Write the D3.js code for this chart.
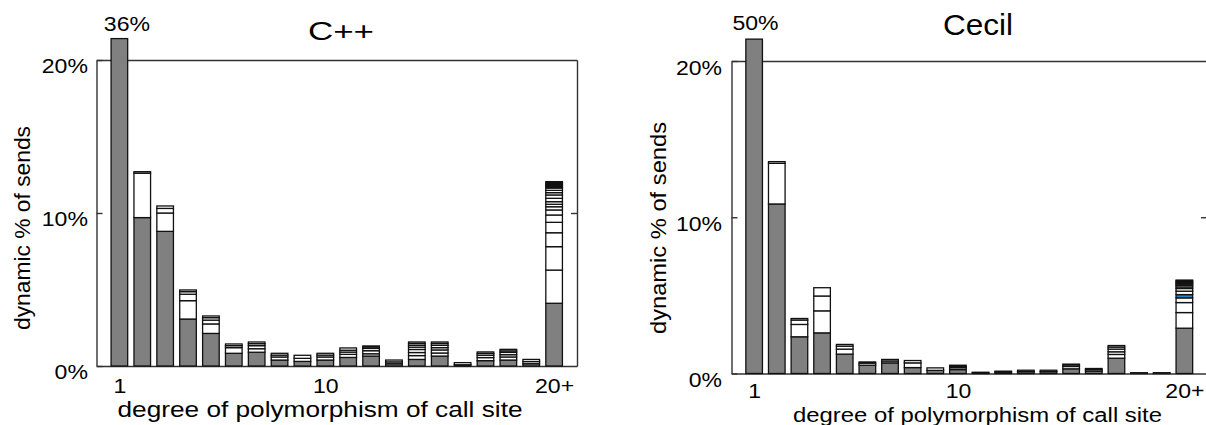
<!DOCTYPE html>
<html>
<head>
	<script src="https://cdn.jsdelivr.net/npm/d3@7"></script>
	<style>
		html, body {
			padding: 0;
			margin: 0;
			background: #fff;
		}
		text {
			font-family: "Liberation Sans", Arial, sans-serif;
			fill: #000;
		}
	</style>
</head>
<body>
	<script>
		var width = 1206, height = 425;

		// degree of polymorphism of call site, 1 .. 20+
		var degrees = d3.range(1, 21);
		var xTickValues = [1, 10, 20];
		var xTickLabels = ["1", "10", "20+"];
		var yTickValues = [0, 10, 20];

		// C++ : grey part of each bar, then the stacked pieces above it (% of sends)
		var cppGrey = [36, 9.7, 8.8, 3.07, 2.13, 0.83, 0.9, 0.39, 0.3, 0.39,
			0.56, 0.65, 0.15, 0.43, 0.65, 0.08, 0.35, 0.39, 0.15, 4.1];
		var cppPieces = [
			[],
			[2.9, 0.1],
			[1.2, 0.3, 0.16],
			[1.2, 0.42, 0.17, 0.11],
			[0.62, 0.25, 0.16, 0.11],
			[0.37, 0.13, 0.11],
			[0.23, 0.2, 0.13, 0.11],
			[0.2, 0.12, 0.12],
			[0.2, 0.2],
			[0.2, 0.12, 0.12],
			[0.2, 0.15, 0.12, 0.15],
			[0.15, 0.2, 0.15, 0.1, 0.06],
			[0.12, 0.12],
			[0.25, 0.2, 0.2, 0.15, 0.12, 0.12, 0.1],
			[0.2, 0.2, 0.15, 0.15, 0.12, 0.1],
			[0.14],
			[0.2, 0.15, 0.12, 0.1],
			[0.2, 0.15, 0.15, 0.1, 0.1],
			[0.14, 0.14],
			[2.17, 1.53, 0.91, 0.68, 0.48, 0.33, 0.21, 0.16, 0.17, 0.22, 0.22,
				0.15, 0.15, 0.15, 0.07, 0.07, 0.07, 0.07, 0.07, 0.07]
		];

		// Cecil
		var cecilGrey = [50, 10.85, 2.35, 2.6, 1.24, 0.53, 0.68, 0.38, 0.2, 0.25,
			0.04, 0.08, 0.12, 0.12, 0.3, 0.15, 0.98, 0.02, 0.02, 2.9];
		var cecilPieces = [
			[],
			[2.6, 0.11],
			[0.79, 0.28, 0.1],
			[1.41, 0.95, 0.53],
			[0.32, 0.19, 0.11],
			[0.13, 0.08],
			[0.12, 0.1],
			[0.3, 0.15],
			[0.16],
			[0.12, 0.08, 0.08],
			[0.04],
			[0.07],
			[0.09],
			[0.09],
			[0.15, 0.1, 0.05],
			[0.1, 0.07],
			[0.24, 0.17, 0.17, 0.13, 0.1],
			[0.03],
			[0.03],
			[1.0, 0.64, 0.3, 0.21, 0.22, 0.17, 0.1, 0.1, 0.08, 0.07, 0.07, 0.06, 0.06]
		];
		var cecilBlue = [20, 4]; // bar, piece index drawn blue

		var svg = d3.select('body').append('svg')
			.attr('width', width)
			.attr('height', height);

		// bars taller than this are cut off and labelled
		var capValue = 21.4;

		function stretch(sel, sx) {
			sel.each(function() {
				var w = this.getComputedTextLength();
				d3.select(this)
					.attr('textLength', w * sx)
					.attr('lengthAdjust', 'spacingAndGlyphs');
			});
		}

		function fixLen(sel, len) {
			sel.attr('textLength', len).attr('lengthAdjust', 'spacingAndGlyphs');
		}

		function drawPanel(p) {
			var x = d3.scaleLinear().domain([0, 21]).range([p.x0, p.x1]);
			var y = d3.scaleLinear().domain([0, 20]).range([p.yBot, p.yTop]);
			var g = svg.append('g');
			var frameColor = '#333';

			// frame
			var top = g.append('g')
				.attr('transform', 'translate(0,' + p.yTop + ')')
				.call(d3.axisTop(x).tickValues([]).tickSizeOuter(0));
			var right = g.append('g')
				.attr('transform', 'translate(' + p.x1 + ',0)')
				.call(d3.axisRight(y).tickValues([10]).tickSize(-6).tickSizeOuter(0).tickFormat(''));
			var left = g.append('g')
				.attr('transform', 'translate(' + p.x0 + ',0)')
				.call(d3.axisLeft(y).tickValues(yTickValues).tickSize(-6).tickSizeOuter(0)
					.tickPadding(p.x0 - p.yTickRight).tickFormat(function(d) { return d + '%'; }));
			var bottom = g.append('g')
				.attr('transform', 'translate(0,' + p.yBot + ')')
				.call(d3.axisBottom(x).tickValues(xTickValues).tickSize(0).tickSizeOuter(0)
					.tickFormat(function(d, i) { return xTickLabels[i]; }));

			[top, right, left, bottom].forEach(function(a) {
				a.selectAll('path, line').attr('stroke', frameColor).attr('stroke-width', 1.4);
			});

			left.selectAll('text')
				.style('font-size', p.tickSize + 'px')
				.attr('dy', p.yTickDy);
			stretch(left.selectAll('text'), p.sx);

			bottom.selectAll('text')
				.style('font-size', p.tickSize + 'px')
				.attr('dy', null)
				.attr('y', p.xTickDy);
			stretch(bottom.selectAll('text'), p.sx);

			// stacked bars
			var bw = 16.6;
			var bars = g.append('g');
			degrees.forEach(function(d, i) {
				var parts = [p.grey[i]].concat(p.pieces[i]);
				var base = 0;
				parts.forEach(function(v, j) {
					var lo = Math.min(base, capValue), hi = Math.min(base + v, capValue);
					base += v;
					var fill = j === 0 ? '#808080' : '#fff';
					if (p.blue && p.blue[0] === d && p.blue[1] === j) fill = '#2b86c0';
					bars.append('rect')
						.attr('x', x(d) - bw / 2)
						.attr('width', bw)
						.attr('y', y(hi))
						.attr('height', Math.max(0, y(lo) - y(hi)))
						.attr('fill', fill)
						.attr('stroke', '#111')
						.attr('stroke-width', 1.3);
				});
			});

			// label for the cut-off first bar
			var over = g.append('text')
				.attr('x', p.over.x)
				.attr('y', p.over.y)
				.attr('text-anchor', 'middle')
				.style('font-size', p.tickSize + 'px')
				.text(p.grey[0] + '%');
			stretch(over, p.sx);

			fixLen(g.append('text')
				.attr('x', p.title.x)
				.attr('y', p.title.y)
				.attr('text-anchor', 'middle')
				.style('font-size', p.title.size + 'px')
				.text(p.name), p.title.len);

			fixLen(g.append('text')
				.attr('x', p.xLabel.x)
				.attr('y', p.xLabel.y)
				.attr('text-anchor', 'middle')
				.style('font-size', p.xLabel.size + 'px')
				.text('degree of polymorphism of call site'), p.xLabel.len);

			fixLen(g.append('text')
				.attr('transform', 'translate(' + p.yLabel.x + ',' + p.yLabel.y + ') rotate(-90)')
				.attr('text-anchor', 'middle')
				.style('font-size', p.yLabel.size + 'px')
				.text('dynamic % of sends'), p.yLabel.len);
		}

		drawPanel({
			name: 'C++',
			grey: cppGrey, pieces: cppPieces,
			x0: 96.5, x1: 577, yTop: 60, yBot: 366,
			yTickRight: 88, yTickDy: 12, xTickDy: 27,
			tickSize: 21, sx: 1.1,
			over: {x: 127, y: 31},
			title: {x: 341, y: 40, size: 26, len: 66},
			xLabel: {x: 320, y: 417, size: 22, len: 405},
			yLabel: {x: 30, y: 228, size: 22, len: 204}
		});

		drawPanel({
			name: 'Cecil',
			grey: cecilGrey, pieces: cecilPieces, blue: cecilBlue,
			x0: 731.5, x1: 1207, yTop: 61, yBot: 373.5,
			yTickRight: 722, yTickDy: 13, xTickDy: 24.5,
			tickSize: 20, sx: 1.15,
			over: {x: 755.5, y: 29.5},
			title: {x: 978, y: 35, size: 30, len: 70},
			xLabel: {x: 977.5, y: 422, size: 20, len: 369},
			yLabel: {x: 666, y: 228, size: 22, len: 212}
		});
	</script>
</body>
</html>
